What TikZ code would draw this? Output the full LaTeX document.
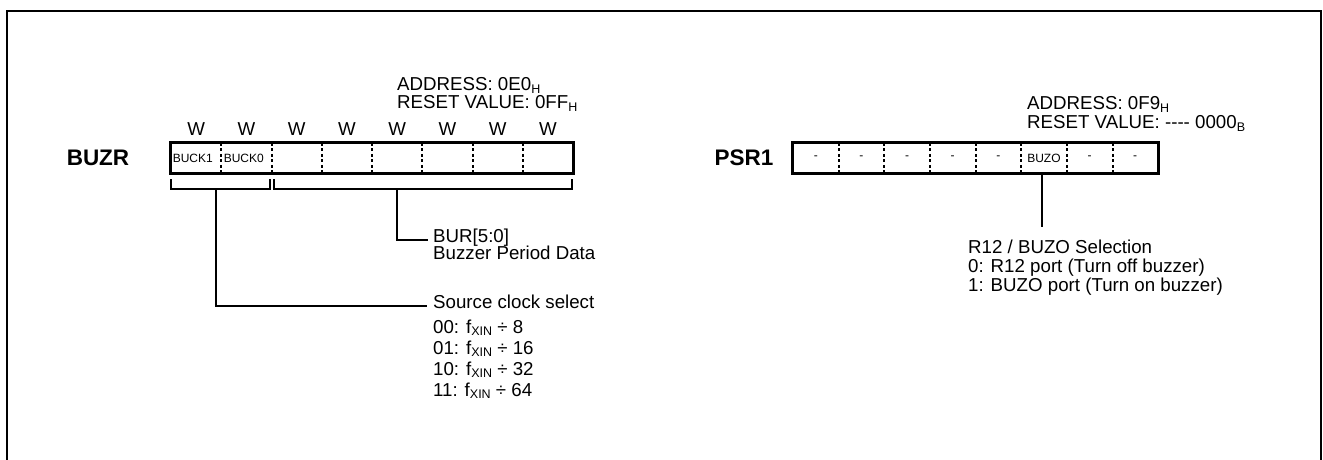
\documentclass[tikz,border=0pt]{standalone}
\usepackage{fontspec}
\setmainfont{Liberation Sans}
\usetikzlibrary{calc}
\newcommand\lowsub[1]{\raisebox{-0.16em}{\fontsize{12.5}{12.5}\selectfont #1}}
\begin{document}
\begin{tikzpicture}[x=1pt,y=-1pt,
  txt/.style={inner sep=0pt, anchor=base west, font=\fontsize{18.7}{21}\selectfont},
  wlab/.style={inner sep=0pt, anchor=base, font=\fontsize{18.7}{21}\selectfont},
  reglab/.style={inner sep=0pt, font=\fontsize{22.5}{24}\selectfont\bfseries},
  small/.style={inner sep=0pt, font=\fontsize{12}{13}\selectfont},
  bcell/.style={minimum width=50.25pt, minimum height=30pt, inner sep=0pt},
  pcell/.style={minimum width=45.625pt, minimum height=30pt, inner sep=0pt, font=\fontsize{12}{13}\selectfont},
  regbox/.style={line width=3pt},
  divider/.style={line width=2pt, dash pattern=on 3pt off 2.5pt},
  conn/.style={line width=1.2pt},
  frame/.style={line width=2pt}]
\useasboundingbox (0,0) rectangle (1323,460);
\draw[frame] (7,461) -- (7,11) -- (1321,11) -- (1321,461);

% ---------- BUZR ----------
\node[reglab] (buzr) at (98,158) {BUZR};
\foreach \i in {0,...,7} {
  \node[bcell] (b\i) at ({171+50.25*(\i+0.5)},158) {};
  \node[wlab] (w\i) at ([yshift=7.5pt]b\i.north) {W};
}
\node[small, anchor=west] (tb1) at ([xshift=1.8pt]b0.west) {BUCK1};
\node[small, anchor=west] (tb0) at ([xshift=2.5pt]b1.west) {BUCK0};
\foreach \i in {0,...,6} \draw[divider] (b\i.north east) -- (b\i.south east);
\draw[regbox] (b0.north west) rectangle (b7.south east);

\node[txt] (addr1) at (397,90.5) {ADDRESS: 0E0\lowsub{H}};
\node[txt] (rst1) at (397,109) {RESET VALUE: 0FF\lowsub{H}};

\coordinate (k1a) at (171,179);
\coordinate (k1b) at (270,179);
\coordinate (k2a) at (274,179);
\coordinate (k2b) at (572,179);
\draw[conn] (k1a) -- ++(0,10) -| (k1b);
\draw[conn] (k2a) -- ++(0,10) -| (k2b);
\coordinate (s1) at (216,189);
\coordinate (s2) at (397,189);

\node[txt] (bur) at (433,242) {BUR[5:0]};
\node[txt] (burd) at (433,259) {Buzzer Period Data};
\node[txt] (src) at (433,308) {Source clock select};
\node[txt] (c0) at (433,333) {00: f\lowsub{XIN} ÷ 8};
\node[txt] (c1) at (433,354) {01: f\lowsub{XIN} ÷ 16};
\node[txt] (c2) at (433,375) {10: f\lowsub{XIN} ÷ 32};
\node[txt] (c3) at (433,396) {11: f\lowsub{XIN} ÷ 64};

\draw[conn] (s2) |- ($(bur.base west)+(-5,-2)$);
\draw[conn] (s1) |- ($(src.base west)+(-6,-2)$);

% ---------- PSR1 ----------
\node[reglab] (psr1) at (744,158) {PSR1};
\foreach \i/\t in {0/-,1/-,2/-,3/-,4/-,5/BUZO,6/-,7/-} {
  \node[pcell] (p\i) at ({793+45.625*(\i+0.5)},158) {\t};
}
\foreach \i in {0,...,6} \draw[divider] (p\i.north east) -- (p\i.south east);
\draw[regbox] (p0.north west) rectangle (p7.south east);

\node[txt] (addr2) at (1027,110) {ADDRESS: 0F9\lowsub{H}};
\node[txt] (rst2) at (1027,128.5) {RESET VALUE: {-}{-}{-}{-} 0000\lowsub{B}};

\coordinate (pe) at ($(p5.south)+(-2,54)$);
\draw[conn] ($(p5.south)+(-2,0)$) -- (pe);
\node[txt] (sel) at (968,253) {R12 / BUZO Selection};
\node[txt] (sel0) at (968,272) {0: R12 port (Turn off buzzer)};
\node[txt] (sel1) at (968,291) {1: BUZO port (Turn on buzzer)};
\end{tikzpicture}
\end{document}
